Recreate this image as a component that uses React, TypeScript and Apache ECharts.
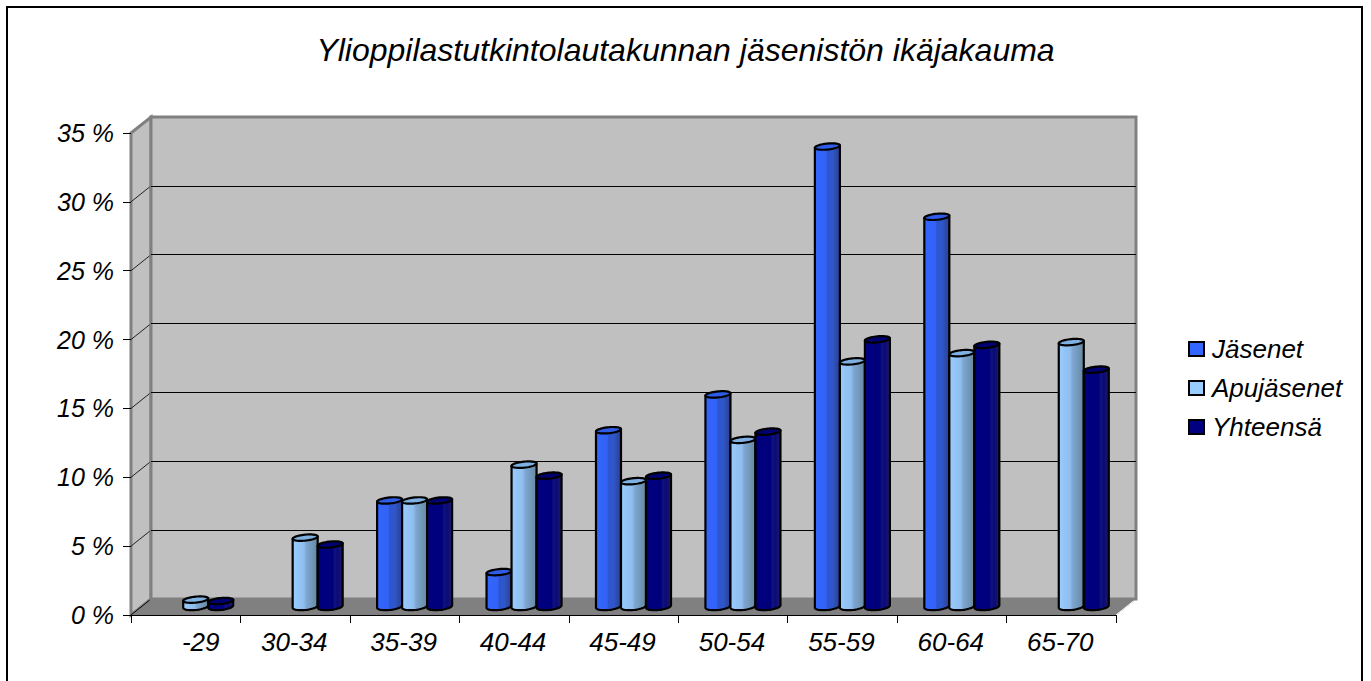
import React, { useEffect, useRef } from "react";
import * as echarts from "echarts";

const categories = ["-29", "30-34", "35-39", "40-44", "45-49", "50-54", "55-59", "60-64", "65-70"];
const jasenet = [null, null, 7.7, 2.5, 12.8, 15.4, 33.4, 28.3, null];
const apujasenet = [0.5, 5.0, 7.7, 10.3, 9.1, 12.1, 17.8, 18.4, 19.2];
const yhteensa = [0.4, 4.5, 7.7, 9.5, 9.5, 12.7, 19.4, 19.0, 17.2];
const seriesNames = ["Jäsenet", "Apujäsenet", "Yhteensä"];
const yTicks = [0, 5, 10, 15, 20, 25, 30, 35];

const FONT = "'Liberation Sans', Arial, sans-serif";
const FRONT = { left: 131, right: 1116, top: 133, bottom: 615 };
const DX = 20;
const DY = -16;
const BAR_DY = -8.5;

const stopsFor = (list: [number, string][]) =>
  new echarts.graphic.LinearGradient(0, 0, 1, 0, list.map(([offset, color]) => ({ offset, color })));

const looks = [
  {
    swatch: "#3366ff",
    cap: "#2f5ce6",
    body: [[0, "#3366ff"], [0.45, "#3262f5"], [0.5, "#2d55cf"], [0.72, "#2f57cc"], [0.78, "#3050b4"], [1, "#28409a"]] as [number, string][],
  },
  {
    swatch: "#99ccff",
    cap: "#7fb0e2",
    body: [[0, "#99ccff"], [0.45, "#8fbdee"], [0.55, "#7ea6d2"], [1, "#66889f"]] as [number, string][],
  },
  {
    swatch: "#000080",
    cap: "#000070",
    body: [[0, "#000080"], [0.6, "#00007c"], [0.68, "#12127e"], [0.8, "#0a0a78"], [1, "#1d1d66"]] as [number, string][],
  },
];

function cylinder(seriesIndex: number) {
  return (_: any, api: any) => {
    const value = api.value(1);
    if (value == null || Number.isNaN(value)) return null;
    const [bandX, topFront] = api.coord([api.value(0), value]);
    const [, baseFront] = api.coord([api.value(0), 0]);
    const bandW = api.size([1, 0])[0];
    const w = bandW * 0.2285;
    const rx = w / 2;
    const tilt = 1.2;
    const cx = bandX + DX / 2 + (seriesIndex - 1) * w;
    const yt = topFront + BAR_DY;
    const yb = baseFront + BAR_DY;
    const at = (cy: number, t: number, ry: number) => [
      cx + rx * Math.cos(t),
      cy + ry * Math.sin(t) - tilt * Math.cos(t),
    ];
    const body: number[][] = [];
    for (let i = 0; i <= 24; i++) body.push(at(yb, Math.PI - (i / 24) * Math.PI, 3.5));
    body.push(at(yt, 0, 3));
    body.push(at(yt, Math.PI, 3));
    const cap: number[][] = [];
    for (let i = 0; i < 48; i++) cap.push(at(yt, (i / 48) * Math.PI * 2, 3));
    const look = looks[seriesIndex];
    return {
      type: "group",
      children: [
        {
          type: "polygon",
          shape: { points: body },
          style: { fill: stopsFor(look.body), stroke: "#000", lineWidth: 2.2, lineJoin: "round" },
        },
        {
          type: "polygon",
          shape: { points: cap },
          style: { fill: look.cap, stroke: "#000", lineWidth: 2.2, lineJoin: "round" },
        },
      ],
    };
  };
}

function App() {
  const ref = useRef<HTMLDivElement>(null);
  useEffect(() => {
    document.body.style.margin = "0";
    const chart = echarts.init(ref.current!, undefined, { renderer: "svg" });
    const yOf = (v: number) => FRONT.bottom - (v / 35) * (FRONT.bottom - FRONT.top);
    const diagonals = yTicks.slice(1, -1).map((v) => ({
      type: "line",
      z: -5,
      shape: { x1: FRONT.left, y1: yOf(v), x2: FRONT.left + DX, y2: yOf(v) + DY },
      style: { stroke: "#222", lineWidth: 1 },
    }));
    const bar = (name: string, values: (number | null)[], i: number) => ({
      name,
      type: "custom",
      xAxisIndex: 0,
      yAxisIndex: 0,
      z: 5 + i,
      clip: false,
      renderItem: cylinder(i),
      encode: { x: 0, y: 1 },
      data: values.map((v, k) => [k, v]),
    });
    chart.setOption({
      animation: false,
      backgroundColor: "#fff",
      title: {
        text: "Ylioppilastutkintolautakunnan jäsenistön ikäjakauma",
        left: "center",
        top: 29,
        textStyle: { fontFamily: FONT, fontStyle: "italic", fontWeight: "normal", fontSize: 32, color: "#000" },
      },
      legend: {
        orient: "vertical",
        left: 1188,
        top: 336,
        padding: 0,
        itemWidth: 15,
        itemHeight: 14,
        itemGap: 13,
        selectedMode: false,
        textStyle: { fontFamily: FONT, fontStyle: "italic", fontSize: 26, color: "#000", padding: [0, 0, 0, 3] },
        data: seriesNames.map((name, i) => ({
          name,
          icon: "rect",
          itemStyle: { color: looks[i].swatch, borderColor: "#000", borderWidth: 2 },
        })),
      },
      grid: [
        { left: FRONT.left, right: 1371 - FRONT.right, top: FRONT.top, bottom: 681 - FRONT.bottom },
        {
          left: FRONT.left + DX,
          right: 1371 - FRONT.right - DX,
          top: FRONT.top + DY,
          bottom: 681 - FRONT.bottom - DY,
          show: true,
          backgroundColor: "#c0c0c0",
          borderColor: "#808080",
          borderWidth: 3,
        },
      ],
      xAxis: [
        {
          gridIndex: 0,
          type: "category",
          data: categories.map((value, i) =>
            i === 0 ? { value, textStyle: { padding: [0, 2, 0, 32] } } : { value }
          ),
          axisLine: { lineStyle: { color: "#000", width: 1 } },
          axisTick: { show: true, length: 8, alignWithLabel: false, lineStyle: { color: "#000" } },
          axisLabel: { interval: 0, margin: 14, padding: [0, 2, 0, 0], fontFamily: FONT, fontStyle: "italic", fontSize: 26, color: "#000" },
        },
        { gridIndex: 1, type: "category", data: categories, show: false },
      ],
      yAxis: [
        {
          gridIndex: 0,
          type: "value",
          min: 0,
          max: 35,
          interval: 5,
          axisLine: { show: false },
          axisTick: { show: true, length: 8, lineStyle: { color: "#000" } },
          splitLine: { show: false },
          axisLabel: { margin: 17, formatter: "{value} %", fontFamily: FONT, fontStyle: "italic", fontSize: 25, color: "#000" },
        },
        {
          gridIndex: 1,
          type: "value",
          min: 0,
          max: 35,
          interval: 5,
          axisLine: { show: false },
          axisTick: { show: false },
          axisLabel: { show: false },
          splitLine: { show: true, showMinLine: false, showMaxLine: false, lineStyle: { color: "#000", width: 1 } },
        },
      ],
      graphic: {
        elements: [
          {
            type: "rect",
            z: -20,
            shape: { x: 7, y: 7, width: 1355, height: 700 },
            style: { fill: "none", stroke: "#000", lineWidth: 2 },
          },
          {
            type: "polygon",
            z: -10,
            shape: {
              points: [
                [FRONT.left, FRONT.top],
                [FRONT.left + DX, FRONT.top + DY],
                [FRONT.left + DX, FRONT.bottom + DY],
                [FRONT.left, FRONT.bottom],
              ],
            },
            style: { fill: "#c0c0c0", stroke: "#808080", lineWidth: 3 },
          },
          {
            type: "polygon",
            z: -4,
            shape: {
              points: [
                [FRONT.left, FRONT.bottom],
                [FRONT.left + DX, FRONT.bottom + DY],
                [FRONT.right + DX, FRONT.bottom + DY],
                [FRONT.right, FRONT.bottom],
              ],
            },
            style: { fill: "#808080", stroke: "#808080", lineWidth: 1 },
          },
          {
            type: "line",
            z: -3,
            shape: { x1: FRONT.left, y1: FRONT.bottom, x2: FRONT.left + DX, y2: FRONT.bottom + DY },
            style: { stroke: "#000", lineWidth: 1 },
          },
          {
            type: "line",
            z: -3,
            shape: { x1: FRONT.right, y1: FRONT.bottom, x2: FRONT.right + DX, y2: FRONT.bottom + DY },
            style: { stroke: "#fff", lineWidth: 1 },
          },
          ...diagonals,
        ],
      },
      series: [bar(seriesNames[0], jasenet, 0), bar(seriesNames[1], apujasenet, 1), bar(seriesNames[2], yhteensa, 2)],
    });
    return () => chart.dispose();
  }, []);
  return <div ref={ref} style={{ width: 1371, height: 681, overflow: "hidden" }} />;
}

export default App;
